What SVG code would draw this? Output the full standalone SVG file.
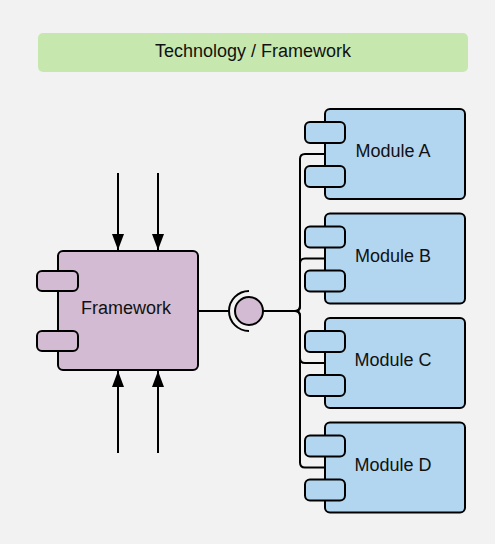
<svg xmlns="http://www.w3.org/2000/svg" width="495" height="544" viewBox="0 0 495 544">
<style>
  .txt{font-family:"Liberation Sans",Arial,sans-serif;font-size:18px;fill:#111;text-anchor:middle}
  .mod{fill:#b2d6f0;stroke:#000;stroke-width:2}
  .fw{fill:#d3bcd3;stroke:#000;stroke-width:2}
  .ln{fill:none;stroke:#000;stroke-width:2}
</style>
<defs>
  <marker id="ah" markerUnits="userSpaceOnUse" markerWidth="16" markerHeight="12" refX="16" refY="6" orient="auto">
    <path d="M0,0 L16,6 L0,12 z" fill="#000"/>
  </marker>
</defs>
<rect width="495" height="544" fill="#f2f2f2"/>
<g id="title">
  <rect x="38" y="33" width="430" height="39" rx="5" fill="#c6e8af"/>
  <text class="txt" x="253" y="57">Technology / Framework</text>
</g>
<g id="connectors">
  <line class="ln" x1="118" y1="173" x2="118" y2="250" marker-end="url(#ah)"/>
  <line class="ln" x1="158" y1="173" x2="158" y2="250" marker-end="url(#ah)"/>
  <line class="ln" x1="118" y1="453" x2="118" y2="371" marker-end="url(#ah)"/>
  <line class="ln" x1="158" y1="453" x2="158" y2="371" marker-end="url(#ah)"/>
  <line class="ln" x1="198" y1="311" x2="229" y2="311"/>
  <path class="ln" d="M249,291 A20,20 0 0 0 249,331"/>
  <path class="ln" d="M263,311 H295 Q300,311 300,306 V159 Q300,154 305,154 H325"/>
  <path class="ln" d="M263,311 H295 Q300,311 300,306 V263.5 Q300,258.5 305,258.5 H325"/>
  <path class="ln" d="M263,311 H295 Q300,311 300,316 V358 Q300,363 305,363 H325"/>
  <path class="ln" d="M263,311 H295 Q300,311 300,316 V462.5 Q300,467.5 305,467.5 H325"/>
  <circle cx="249" cy="311" r="14" fill="#d3bcd3" stroke="#000" stroke-width="2"/>
</g>
<g id="framework">
  <rect class="fw" x="58" y="251" width="140" height="119" rx="5"/>
  <rect class="fw" x="37" y="271" width="41" height="20" rx="5"/>
  <rect class="fw" x="37" y="331" width="41" height="20" rx="5"/>
  <text class="txt" x="126" y="314">Framework</text>
</g>
<g id="moduleA">
  <rect class="mod" x="325" y="109" width="140" height="90" rx="5"/>
  <rect class="mod" x="305" y="122" width="40" height="21" rx="5"/>
  <rect class="mod" x="305" y="166" width="40" height="21" rx="5"/>
  <text class="txt" x="393" y="157">Module A</text>
</g>
<g id="moduleB">
  <rect class="mod" x="325" y="213.5" width="140" height="90" rx="5"/>
  <rect class="mod" x="305" y="226.5" width="40" height="21" rx="5"/>
  <rect class="mod" x="305" y="270.5" width="40" height="21" rx="5"/>
  <text class="txt" x="393" y="262">Module B</text>
</g>
<g id="moduleC">
  <rect class="mod" x="325" y="318" width="140" height="90" rx="5"/>
  <rect class="mod" x="305" y="331" width="40" height="21" rx="5"/>
  <rect class="mod" x="305" y="375" width="40" height="21" rx="5"/>
  <text class="txt" x="393" y="366">Module C</text>
</g>
<g id="moduleD">
  <rect class="mod" x="325" y="422.5" width="140" height="90" rx="5"/>
  <rect class="mod" x="305" y="435.5" width="40" height="21" rx="5"/>
  <rect class="mod" x="305" y="479.5" width="40" height="21" rx="5"/>
  <text class="txt" x="393" y="471">Module D</text>
</g>
</svg>
